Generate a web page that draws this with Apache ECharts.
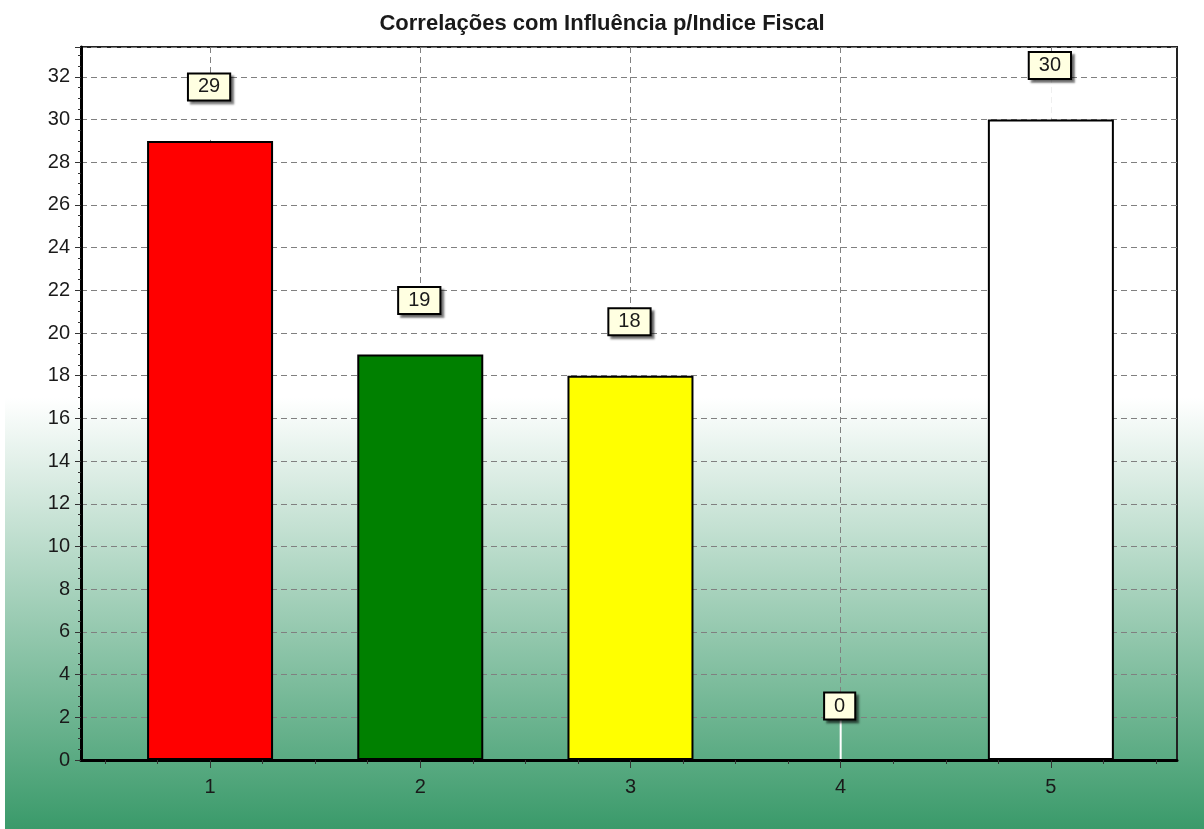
<!DOCTYPE html>
<html>
<head>
<meta charset="utf-8">
<script src="https://cdn.jsdelivr.net/npm/echarts@6/dist/echarts.min.js"></script>
<style>
  html, body { margin: 0; padding: 0; }
  #chart { width: 1204px; height: 829px; }
</style>
</head>
<body>
<div id="chart"></div>
<script>
// data
const categories = [1, 2, 3, 4, 5];
const values = [29, 19, 18, 0, 30];
const barColors = ['#ff0000', '#008000', '#ffff00', '#ffffff', '#ffffff'];
const xMinorTicks = [0.5, 0.75, 1, 1.25, 1.5, 1.75, 2, 2.25, 2.5, 2.75, 3, 3.25, 3.5, 3.75, 4, 4.25, 4.5, 4.75, 5, 5.25, 5.5];

const FONT = '"Liberation Sans", Arial, sans-serif';
const points = categories.map((c, i) => [c, values[i]]);

const chart = echarts.init(document.getElementById('chart'));

chart.setOption({
    animation: false,
    backgroundColor: {
        type: 'linear', x: 0, y: 0, x2: 0, y2: 1,
        colorStops: [
            { offset: 0, color: '#ffffff' },
            { offset: 0.48, color: '#ffffff' },
            { offset: 1, color: '#3a9a6a' }
        ]
    },
    title: {
        text: 'Correlações com Influência p/Indice Fiscal',
        left: 'center',
        top: 8,
        textStyle: { fontFamily: FONT, fontSize: 22, fontWeight: 'bold', color: '#1a1a1a' }
    },
    graphic: [
        { type: 'rect', left: 0, top: 0, shape: { width: 5, height: 829 }, style: { fill: '#ffffff' }, silent: true }
    ],
    grid: {
        left: 81, right: 27, top: 47, bottom: 69,
        show: true,
        backgroundColor: 'transparent',
        borderColor: '#222',
        borderWidth: 2
    },
    xAxis: [
        {
            type: 'value',
            min: 0.386,
            max: 5.6,
            position: 'bottom',
            axisLine: { show: true, lineStyle: { color: '#000', width: 3 } },
            axisTick: { show: true, customValues: categories, length: 8, lineStyle: { color: '#333', width: 1 } },
            axisLabel: {
                customValues: categories,
                margin: 17,
                color: '#1a1a1a',
                fontFamily: FONT,
                fontSize: 20
            },
            splitLine: { show: true, lineStyle: { color: '#808080', width: 1, type: [6, 4] } },
            minorTick: { show: false }
        },
        {
            type: 'value',
            min: 0.386,
            max: 5.6,
            position: 'bottom',
            axisLine: { show: false },
            axisTick: { show: true, customValues: xMinorTicks, length: 4, lineStyle: { color: '#333', width: 1 } },
            axisLabel: { show: false },
            splitLine: { show: false }
        }
    ],
    yAxis: {
        type: 'value',
        min: 0,
        max: 33.4,
        interval: 2,
        axisLine: { show: true, lineStyle: { color: '#000', width: 3 } },
        axisTick: { show: true, length: 6, lineStyle: { color: '#333', width: 1 } },
        minorTick: { show: true, splitNumber: 4, length: 3, lineStyle: { color: '#333', width: 1 } },
        axisLabel: {
            margin: 11,
            color: '#1a1a1a',
            fontFamily: FONT,
            fontSize: 20,
            showMaxLabel: false
        },
        splitLine: { show: true, lineStyle: { color: '#808080', width: 1, type: [6, 4] } }
    },
    series: [
        {
            type: 'bar',
            xAxisIndex: 0,
            barWidth: 126,
            data: points.map((p, i) => ({
                value: p,
                itemStyle: { color: barColors[i], borderColor: '#000', borderWidth: 2 }
            })),
            z: 2
        },
        {
            type: 'custom',
            xAxisIndex: 0,
            clip: false,
            z: 5,
            data: points,
            renderItem: function (params, api) {
                const pt = api.coord([api.value(0), api.value(1)]);
                const cy = pt[1] - 54;
                return {
                    type: 'group',
                    children: [
                        {
                            type: 'line',
                            shape: { x1: pt[0], y1: pt[1] - 1, x2: pt[0], y2: cy + 13 },
                            style: { stroke: '#ffffff', lineWidth: 2 }
                        },
                        {
                            type: 'text',
                            x: pt[0] - 1,
                            y: cy,
                            style: {
                                text: String(api.value(1)),
                                fontFamily: FONT,
                                fontSize: 20,
                                fill: '#1a1a1a',
                                align: 'center',
                                verticalAlign: 'middle',
                                backgroundColor: '#ffffe1',
                                borderColor: '#000',
                                borderWidth: 2,
                                padding: [3, 9, 2, 9],
                                shadowColor: 'rgba(0,0,0,0.45)',
                                shadowBlur: 2,
                                shadowOffsetX: 3,
                                shadowOffsetY: 3
                            }
                        }
                    ]
                };
            }
        }
    ]
});
</script>
</body>
</html>
